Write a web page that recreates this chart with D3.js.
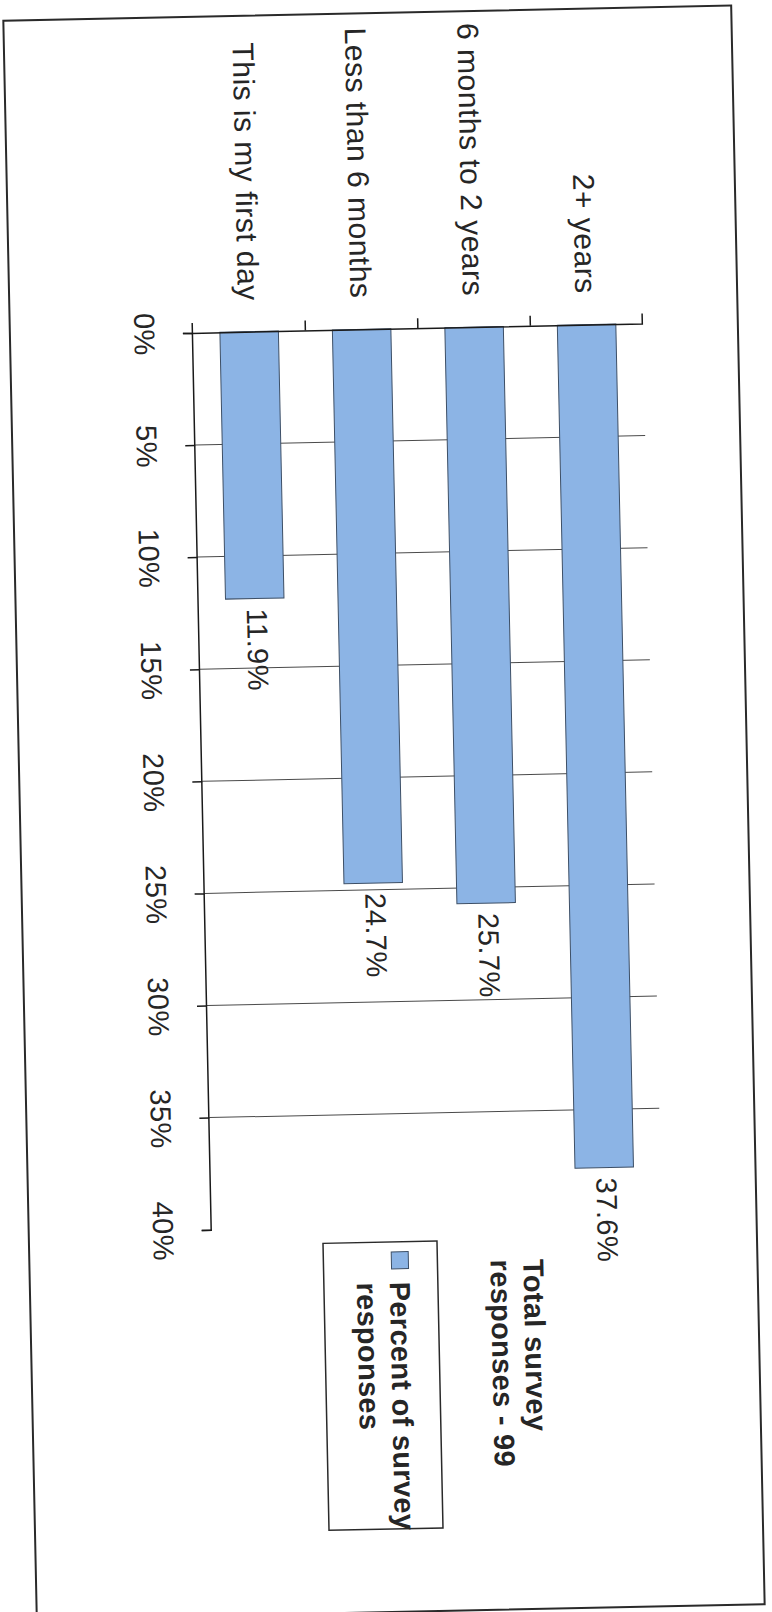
<!DOCTYPE html>
<html lang="en">
<head>
  <meta charset="UTF-8">
  <title>Time in role</title>
  <script src="https://cdn.jsdelivr.net/npm/d3@7"></script>
  <style>
    body { margin: 0; background: #fff; }
    text { font-family: "Liberation Sans", Arial, sans-serif; fill: #262626; letter-spacing: 0.5px; }
    .frame { fill: #fff; stroke: #2a2a2a; stroke-width: 2px; }
    .grid line { stroke: #4a4a4a; stroke-width: 1px; }
    .axis path, .axis line { stroke: #1a1a1a; stroke-width: 1.5px; fill: none; }
    .axis text { font-size: 29px; }
    .cat text { font-size: 30px; }
    .bar { fill: #8cb4e5; stroke: #3d4f66; stroke-width: 1px; }
    .label { font-size: 29px; }
    .legend text { font-size: 29px; font-weight: bold; letter-spacing: 0.3px; }
    .legend-box { fill: none; stroke: #2a2a2a; stroke-width: 1.5px; }
  </style>
</head>
<body>
<div class="chart"></div>
<script>
  // data, top category first (chart is drawn sideways, as in the scan)
  const categories = ['2+ years', '6 months to 2 years', 'Less than 6 months', 'This is my first day'];
  const values = [37.6, 25.7, 24.7, 11.9];
  const valueTicks = [0, 5, 10, 15, 20, 25, 30, 35, 40];
  const legendTitle = ['Total survey', 'responses - 99'];
  const seriesName = ['Percent of survey', 'responses'];

  const page = {w: 772, h: 1612};
  const frame = {w: 1599, h: 728};
  const plot = {left: 316, right: 1213, top: 95, bottom: 545};

  const svg = d3.select('.chart')
    .append('svg')
    .attr('width', page.w).attr('height', page.h);

  // scan is turned a quarter and a bit tilted
  const g = svg.append('g')
    .attr('transform', 'rotate(-1.2 384 813) translate(748 13) rotate(90)');

  g.append('rect').attr('class', 'frame').attr('width', frame.w).attr('height', frame.h);

  const x = d3.scaleLinear().domain([0, 40]).range([plot.left, plot.right]);
  const y = d3.scaleBand().domain(categories).range([plot.top, plot.bottom])
    .paddingInner(0.48).paddingOuter(0.24);

  // gridlines (none at 0 and 40)
  g.append('g').attr('class', 'grid')
    .selectAll('line').data(valueTicks.filter(t => t > 0 && t < 40)).enter().append('line')
    .attr('x1', d => x(d)).attr('x2', d => x(d))
    .attr('y1', plot.top).attr('y2', plot.bottom);

  // bars
  g.selectAll('.bar').data(categories).enter().append('rect')
    .attr('class', 'bar')
    .attr('x', x(0))
    .attr('y', d => y(d))
    .attr('width', (d, i) => x(values[i]) - x(0))
    .attr('height', y.bandwidth());

  // value axis
  g.append('g').attr('class', 'axis')
    .attr('transform', `translate(0 ${plot.bottom})`)
    .call(d3.axisBottom(x).tickValues(valueTicks).tickSize(10).tickSizeOuter(10)
      .tickPadding(28).tickFormat(d => d + '%'))
    .attr('font-size', null).attr('font-family', null);

  // category axis
  const cat = g.append('g').attr('class', 'axis cat')
    .attr('transform', `translate(${plot.left} 0)`)
    .call(d3.axisLeft(y).tickSize(0).tickSizeOuter(10).tickPadding(31))
    .attr('font-size', null).attr('font-family', null);
  cat.selectAll('.tick text').attr('dy', '0.35em');
  const step = y.step();
  cat.selectAll('.sep').data(categories.slice(1)).enter().append('line')
    .attr('x1', -10).attr('x2', 0)
    .attr('y1', d => y(d) - step * y.paddingInner() / 2)
    .attr('y2', d => y(d) - step * y.paddingInner() / 2);

  // data labels
  g.selectAll('.label').data(categories).enter().append('text')
    .attr('class', 'label')
    .attr('x', (d, i) => x(values[i]) + 10)
    .attr('y', d => y(d) + y.bandwidth() / 2)
    .attr('dy', '0.28em')
    .text((d, i) => values[i].toFixed(1) + '%');

  // legend
  const lg = g.append('g').attr('class', 'legend');
  lg.selectAll('.title').data(legendTitle).enter().append('text')
    .attr('x', 1249).attr('y', (d, i) => 234 + i * 33).text(d => d);
  lg.append('rect').attr('class', 'legend-box')
    .attr('x', 1229).attr('y', 320).attr('width', 287).attr('height', 114);
  lg.append('rect').attr('class', 'bar')
    .attr('x', 1239).attr('y', 349).attr('width', 17).attr('height', 17);
  lg.selectAll('.series').data(seriesName).enter().append('text')
    .attr('x', 1269).attr('y', (d, i) => 368 + i * 33).text(d => d);
</script>
</body>
</html>
